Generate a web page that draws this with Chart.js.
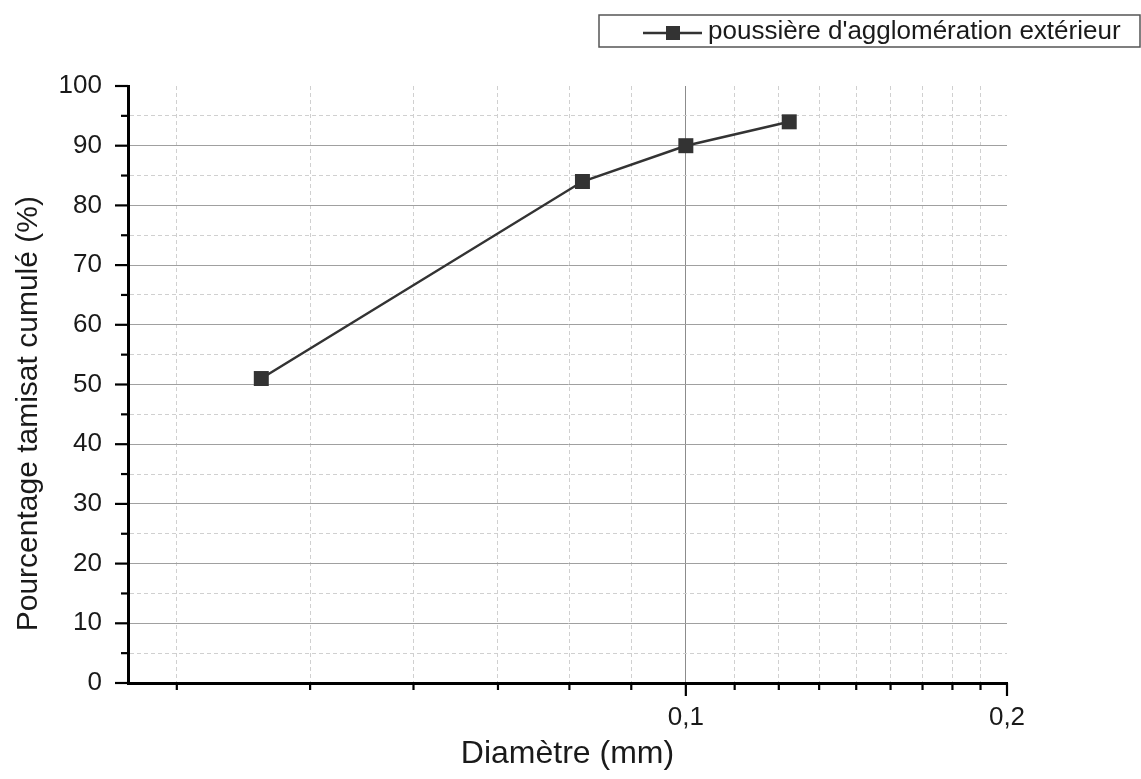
<!DOCTYPE html>
<html>
<head>
<meta charset="utf-8">
<script src="https://cdn.jsdelivr.net/npm/chart.js@4.4.1/dist/chart.umd.min.js"></script>
<style>
  html, body { margin: 0; background: #fff; }
  #wrap { width: 1141px; height: 779px; position: relative; }
</style>
</head>
<body>
<div id="wrap"><canvas id="chart"></canvas></div>
<script>
// sieve sizes (mm) and cumulative passing (%)
const diameters = [0.04, 0.08, 0.1, 0.125];
const passing = [51, 84, 90, 94];
const seriesLabel = "poussière d'agglomération extérieur";

// Origin-style log axis: majors every 0.1, 8 minor ticks in between
const xTickSteps = [3, 4, 5, 6, 7, 8, 9, 10, 11, 12, 13, 14, 15, 16, 17, 18];
const xTickValues = xTickSteps.map(k => k / 90);
const xMajorLabels = { 9: '0,1', 18: '0,2' };
const yTickValues = [0, 5, 10, 15, 20, 25, 30, 35, 40, 45, 50, 55, 60, 65, 70, 75, 80, 85, 90, 95, 100];

const FONT = "'Liberation Sans', Arial, sans-serif";
const INK = '#1a1a1a';

const isXMajor = v => Math.abs(v * 90 - Math.round(v * 90)) < 1e-6 && Math.round(v * 90) % 9 === 0;
const isYMajor = v => v % 10 === 0;

// short/long tick marks like Origin
const tickMarks = {
  id: 'tickMarks',
  afterDraw(chart) {
    const { ctx, scales: { x, y } } = chart;
    ctx.save();
    ctx.strokeStyle = '#000';
    ctx.lineWidth = 2.2;
    xTickValues.forEach(v => {
      const px = x.getPixelForValue(v);
      const len = isXMajor(v) ? 13 : 7;
      ctx.beginPath();
      ctx.moveTo(px, y.bottom);
      ctx.lineTo(px, y.bottom + len);
      ctx.stroke();
    });
    yTickValues.forEach(v => {
      const py = y.getPixelForValue(v);
      const len = isYMajor(v) ? 13 : 7;
      ctx.beginPath();
      ctx.moveTo(x.left, py);
      ctx.lineTo(x.left - len, py);
      ctx.stroke();
    });
    ctx.restore();
  }
};

// boxed legend at top right
const boxLegend = {
  id: 'boxLegend',
  afterDraw(chart) {
    const { ctx } = chart;
    const ds = chart.data.datasets[0];
    ctx.save();
    ctx.strokeStyle = '#555';
    ctx.lineWidth = 1.5;
    ctx.strokeRect(599, 15, 541, 32);
    ctx.strokeStyle = ds.borderColor;
    ctx.lineWidth = 2.5;
    ctx.beginPath();
    ctx.moveTo(643, 33);
    ctx.lineTo(702, 33);
    ctx.stroke();
    ctx.fillStyle = ds.pointBackgroundColor;
    ctx.fillRect(666, 26, 14, 14);
    ctx.fillStyle = INK;
    ctx.font = '26px ' + FONT;
    ctx.textBaseline = 'middle';
    ctx.textAlign = 'left';
    ctx.fillText(ds.label, 708, 32);
    ctx.restore();
  }
};

new Chart(document.getElementById('chart'), {
  type: 'line',
  data: {
    datasets: [{
      label: seriesLabel,
      data: diameters.map((d, i) => ({ x: d, y: passing[i] })),
      borderColor: '#333',
      borderWidth: 2.5,
      pointStyle: 'rect',
      pointRadius: 10.6,
      pointHoverRadius: 10.6,
      pointBackgroundColor: '#333',
      pointBorderColor: '#333',
      pointBorderWidth: 0,
      tension: 0
    }]
  },
  options: {
    responsive: true,
    maintainAspectRatio: false,
    animation: false,
    layout: { padding: { left: 0, top: 86, right: 134, bottom: 0 } },
    plugins: { legend: { display: false }, tooltip: { enabled: false } },
    scales: {
      x: {
        type: 'logarithmic',
        min: 0.03,
        max: 0.2,
        afterBuildTicks: s => { s.ticks = xTickValues.map(v => ({ value: v })); },
        afterFit: s => { s.height = 96; },
        ticks: {
          autoSkip: false,
          maxRotation: 0,
          padding: 19,
          color: INK,
          font: { family: FONT, size: 26 },
          callback: (v, i) => xMajorLabels[xTickSteps[i]] || ''
        },
        grid: {
          drawTicks: false,
          lineWidth: 1,
          color: c => {
            const v = c.tick ? c.tick.value : 0;
            if (Math.abs(v - 0.2) < 1e-6) return 'rgba(0,0,0,0)';
            return isXMajor(v) ? '#8c8c8c' : '#d0d0d0';
          }
        },
        border: {
          color: '#000',
          width: 3,
          dash: c => (c.tick && !isXMajor(c.tick.value)) ? [4, 3] : []
        },
        title: {
          display: true,
          text: 'Diamètre (mm)',
          color: INK,
          font: { family: FONT, size: 32 },
          padding: { top: 0, bottom: 6 }
        }
      },
      y: {
        min: 0,
        max: 100,
        afterBuildTicks: s => { s.ticks = yTickValues.map(v => ({ value: v })); },
        afterFit: s => { s.width = 128; },
        ticks: {
          autoSkip: false,
          padding: 26,
          color: INK,
          font: { family: FONT, size: 26 },
          callback: v => isYMajor(v) ? String(v) : ''
        },
        grid: {
          drawTicks: false,
          lineWidth: 1,
          color: c => {
            const v = c.tick ? c.tick.value : 0;
            if (v === 0 || v === 100) return 'rgba(0,0,0,0)';
            return isYMajor(v) ? '#a0a0a0' : '#d0d0d0';
          }
        },
        border: {
          color: '#000',
          width: 3,
          dash: c => (c.tick && !isYMajor(c.tick.value)) ? [4, 3] : []
        },
        title: {
          display: true,
          // trailing no-break spaces push the title a little below centre, as in the original
          text: 'Pourcentage tamisat cumulé (%)\u00a0\u00a0\u00a0\u00a0\u00a0\u00a0\u00a0',
          color: INK,
          font: { family: FONT, size: 30 },
          padding: { top: 11, bottom: 0 }
        }
      }
    }
  },
  plugins: [tickMarks, boxLegend]
});
</script>
</body>
</html>
